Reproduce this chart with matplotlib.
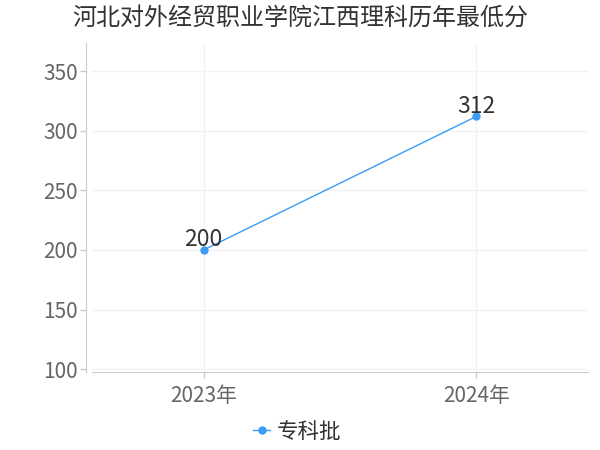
import matplotlib
matplotlib.use("Agg")
import matplotlib.pyplot as plt

plt.rcParams['font.family'] = ['Noto Sans CJK SC', 'DejaVu Sans']

title = "河北对外经贸职业学院江西理科历年最低分"
categories = ["2023年", "2024年"]
series_name = "专科批"
values = [200, 312]
yticks = [100, 150, 200, 250, 300, 350]

color = "#3a9cf5"
fig = plt.figure(figsize=(6, 4.5), dpi=100)
ax = fig.add_axes([0.153, 0.173, 0.827, 0.731])

x = list(range(len(categories)))
ax.plot(x, values, color=color, lw=1, marker='o', ms=5, label=series_name, zorder=3)
for xi, v in zip(x, values):
    ax.annotate(str(v), (xi, v), xytext=(0, -1), textcoords='offset points',
                ha='center', va='bottom', fontsize=16.5, color='#333333', zorder=4)

ax.set_xlim(-0.41, 1.41)
ax.set_ylim(97.5, 373.5)
ax.set_xticks(x)
ax.set_xticklabels(categories)
ax.set_yticks(yticks)
ax.tick_params(axis='both', labelsize=15, colors='#cccccc', labelcolor='#666666', length=4, width=1)
ax.tick_params(axis='x', pad=5)
ax.tick_params(axis='y', pad=2)

ax.grid(True, color='#f2f2f2', lw=1)
ax.set_axisbelow(True)
for s in ['top', 'right']:
    ax.spines[s].set_visible(False)
ax.spines['left'].set_color('#cccccc')
ax.spines['bottom'].set_color('#cccccc')
ax.spines['left'].set_position(('outward', 4))

fig.text(0.5, 0.96, title, ha='center', va='center', fontsize=17.3, color='#333333')

leg = fig.legend(loc='center', bbox_to_anchor=(0.495, 0.04), frameon=False,
                 fontsize=15.5, handlelength=0.8, handletextpad=0.3, labelcolor='#333333')

fig.savefig("out.png", dpi=100)
